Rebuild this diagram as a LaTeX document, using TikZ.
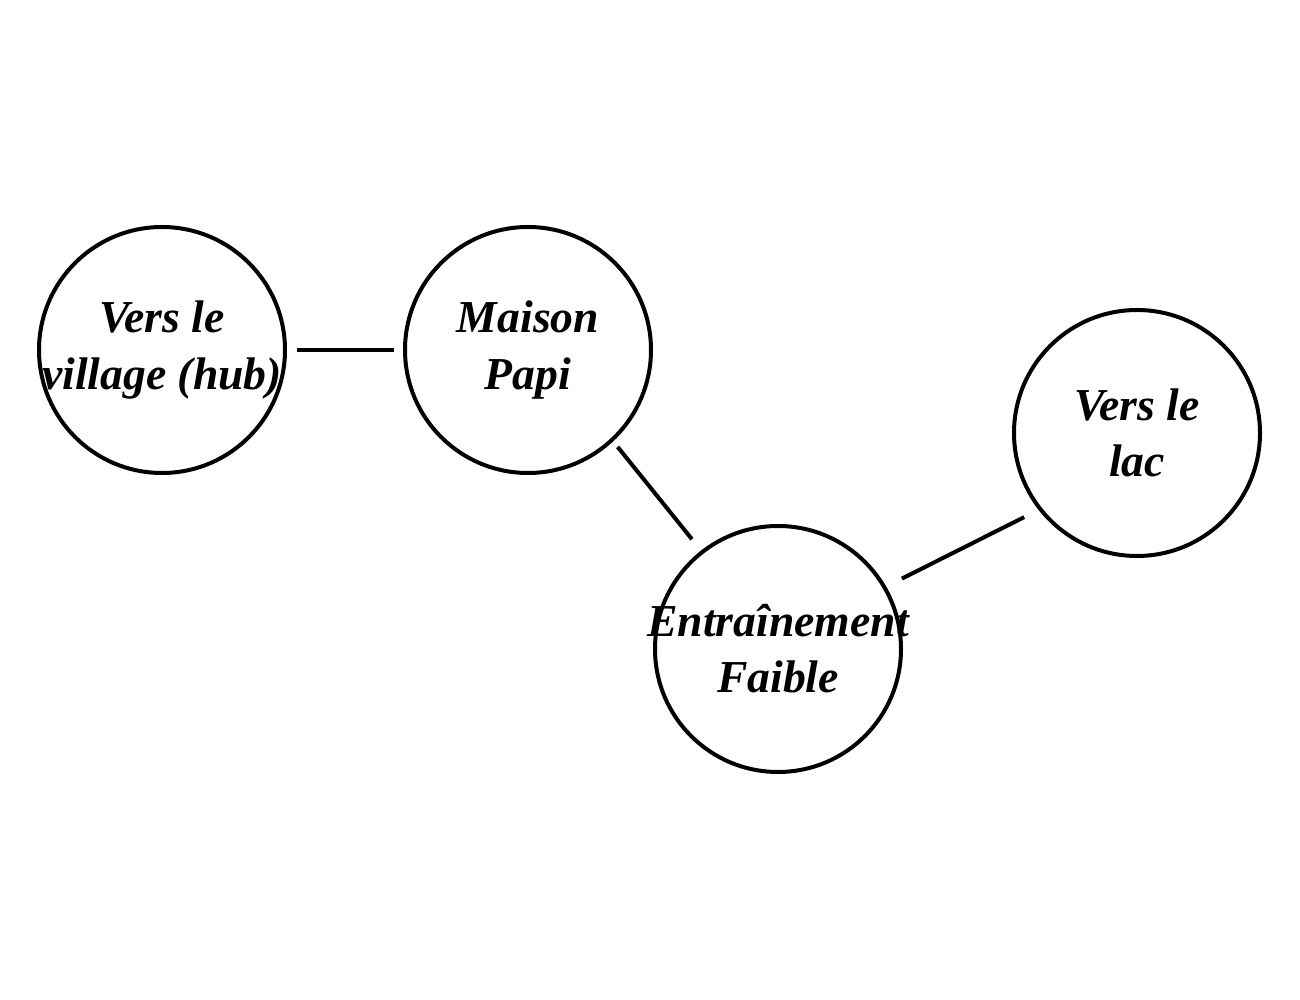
\documentclass[tikz,border=0pt]{standalone}
\usepackage{fontspec}
\setmainfont{Liberation Serif}
\usetikzlibrary{positioning}

\begin{document}
\begin{tikzpicture}[scale=1]
    \tikzset{
        room/.style={draw, circle, line width=0.08cm, minimum size=4.92cm, inner sep=0pt},
        roomtext/.style={align=center, inner sep=0pt, font=\fontsize{26}{32}\selectfont\bfseries\itshape},
        link/.style={line width=0.08cm}
    }
    \useasboundingbox (0,0) rectangle (26,20);

    \node[room, label={[roomtext]center:Vers le\\village (hub)}] (village) at (3.24, 13.0) {};
    \node[room, label={[roomtext]center:Maison\\Papi}] (maison) at (10.56, 13.0) {};
    \node[room, label={[roomtext]center:Entraînement\\Faible}] (entrainement) at (15.56, 7.02) {};
    \node[room, label={[roomtext]center:Vers le\\lac}] (lac) at (22.74, 11.34) {};

    \draw[link, shorten <=0.2cm, shorten >=0.18cm] (village.east) -- (maison.west);
    \draw[link, shorten <=0.14cm, shorten >=0.29cm] (maison.-47) -- (entrainement.128);
    \draw[link, shorten <=0.35cm, shorten >=0.32cm] (entrainement.30) -- (lac.218);
\end{tikzpicture}
\end{document}
